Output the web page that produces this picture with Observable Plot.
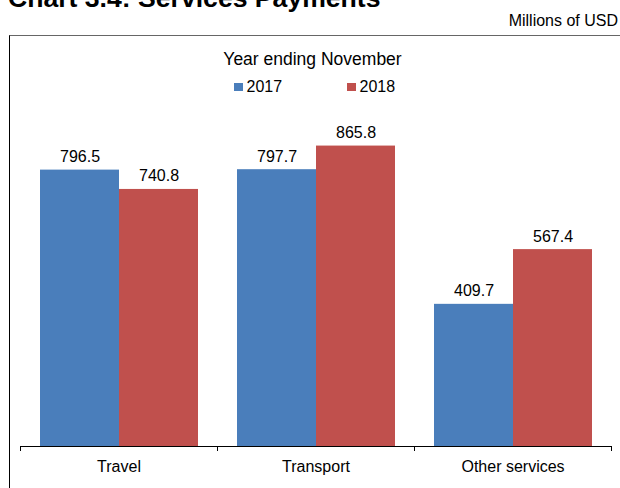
<!DOCTYPE html>
<html>
<head>
<meta charset="utf-8">
<script src="https://cdn.jsdelivr.net/npm/d3@7"></script>
<script src="https://cdn.jsdelivr.net/npm/@observablehq/plot@0.6"></script>
<style>
  html, body { margin: 0; padding: 0; background: #fff; }
  body { width: 620px; height: 488px; position: relative; overflow: hidden; font-family: "Liberation Sans", Arial, sans-serif; color: #000; }
  .abs { position: absolute; white-space: nowrap; }
  #title { left: 8px; top: -17px; font-size: 26.6px; font-weight: bold; line-height: 30px; }
  #unit { right: 2px; top: 11px; font-size: 16px; line-height: 19px; }
  #box { left: 9px; top: 35px; width: 700px; height: 500px; border-left: 1px solid #000; border-top: 1px solid #666; box-sizing: border-box; }
  #chart { left: 0; top: 0; }
  #legtitle { left: 0; width: 625px; text-align: center; top: 48px; font-size: 17.5px; line-height: 22px; }
  .leg { top: 78px; font-size: 16px; line-height: 18px; display: flex; align-items: center; }
  .sw { width: 8.5px; height: 8.5px; display: inline-block; margin-right: 4px; }
</style>
</head>
<body>
<div id="box" class="abs"></div>
<div id="chart" class="abs"></div>
<div id="title" class="abs">Chart 3.4: Services Payments</div>
<div id="unit" class="abs">Millions of USD</div>
<div id="legtitle" class="abs">Year ending November</div>
<div id="legend"></div>
<script>
const categories = ["Travel", "Transport", "Other services"];
const years = ["2017", "2018"];
const values2017 = [796.5, 797.7, 409.7];
const values2018 = [740.8, 865.8, 567.4];
const colors = ["#4a7ebb", "#c0504d"];
const legendX = [234, 347];

const series = [values2017, values2018];
const data = [];
categories.forEach((c, i) => {
  years.forEach((y, j) => data.push({category: c, year: y, value: series[j][i]}));
});

const W = 620, H = 488, mTop = 99, mBottom = 42, mLeft = 19, mRight = 9;
const plotH = H - mTop - mBottom;

const chart = Plot.plot({
  width: W,
  height: H,
  marginTop: mTop,
  marginBottom: mBottom,
  marginLeft: mLeft,
  marginRight: mRight,
  style: {background: "transparent", fontFamily: "Liberation Sans, Arial, sans-serif", fontSize: "16px", color: "#000", overflow: "visible"},
  fx: {domain: categories, padding: 0, label: null},
  x: {domain: years, paddingInner: 0, paddingOuter: 0.244, axis: null},
  y: {domain: [0, 1000], axis: null},
  color: {domain: years, range: colors},
  marks: [
    Plot.barY(data, {fx: "category", x: "year", y: "value", fill: "year"}),
    Plot.text(data, {fx: "category", x: "year", y: "value", text: d => d.value.toFixed(1), lineAnchor: "bottom", dy: -8, fontSize: 16, fill: "#000"}),
    Plot.ruleY([0], {stroke: "#000", strokeWidth: 1}),
    Plot.frame({anchor: "left", insetTop: plotH, insetBottom: -4, stroke: "#000"}),
    Plot.frame({anchor: "right", insetTop: plotH, insetBottom: -4, stroke: "#000"}),
    Plot.axisFx({anchor: "bottom", tickSize: 0, tickPadding: 14, fontSize: 16, label: null, fill: "#000"})
  ]
});
document.getElementById("chart").appendChild(chart);

const legend = document.getElementById("legend");
years.forEach((y, j) => {
  const item = document.createElement("div");
  item.className = "abs leg";
  item.style.left = legendX[j] + "px";
  const sw = document.createElement("span");
  sw.className = "sw";
  sw.style.background = colors[j];
  item.appendChild(sw);
  item.appendChild(document.createTextNode(y));
  legend.appendChild(item);
});
</script>
</body>
</html>
